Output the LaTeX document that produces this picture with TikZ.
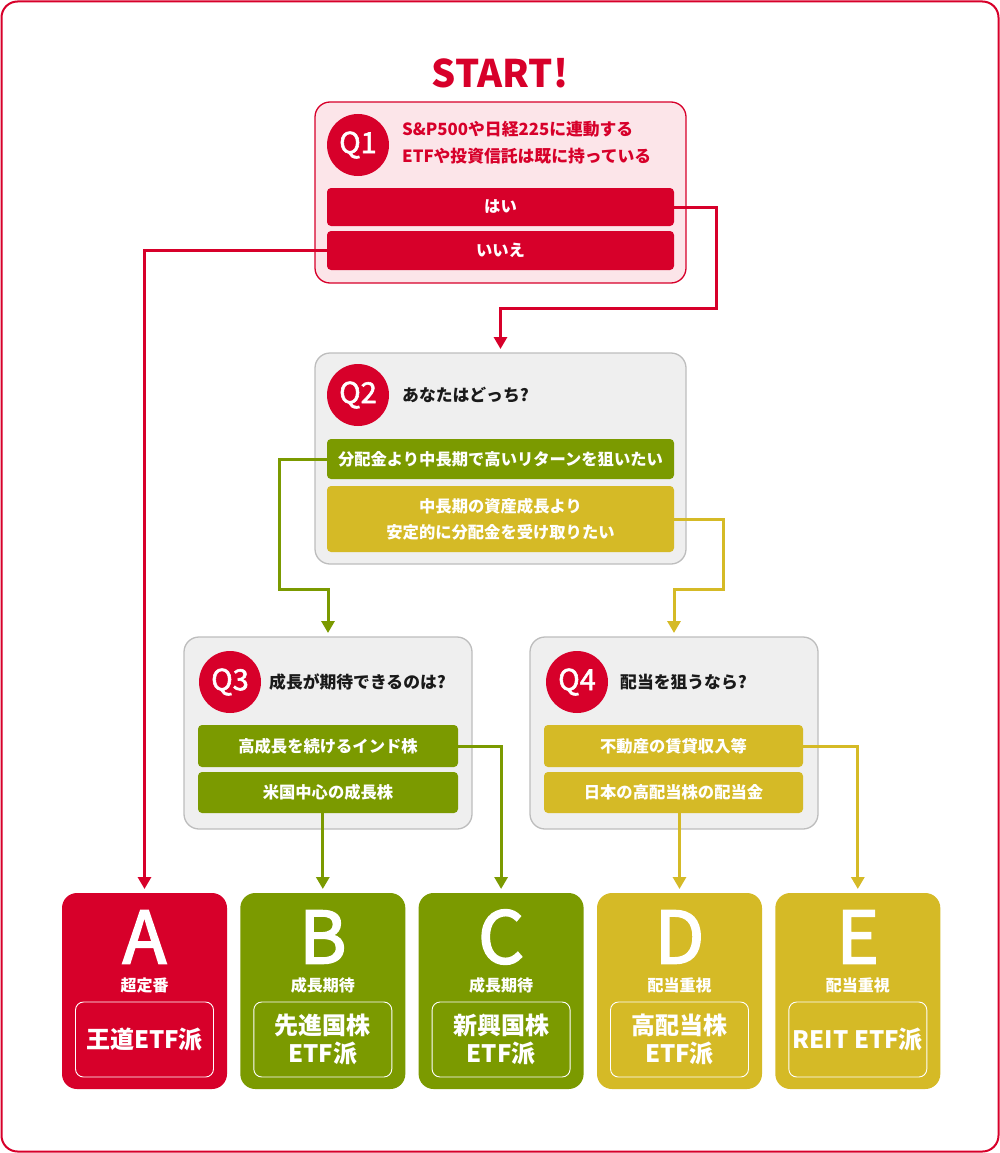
\documentclass[tikz,border=0pt]{standalone}
\usepackage{fontspec}
\setmainfont{Noto Sans CJK JP}
\newfontfamily\medfont[FakeBold=2]{Noto Sans CJK JP}
\newfontfamily\letfont[FakeBold=2.5]{Noto Sans CJK JP}
\usetikzlibrary{arrows.meta}
\definecolor{cred}{HTML}{D7002A}
\definecolor{cgreen}{HTML}{7B9A00}
\definecolor{cyellow}{HTML}{D5BA26}
\definecolor{cpink}{HTML}{FCE5E9}
\definecolor{cgray}{HTML}{EFEFEF}
\definecolor{cgrayb}{HTML}{BDBDBD}
\definecolor{ctext}{HTML}{1A1A1A}
\tikzset{
  qbox/.style={draw, line width=1.3pt, rounded corners=15pt, inner sep=0pt, outer sep=0pt},
  qpink/.style={qbox, draw=cred, fill=cpink},
  qgray/.style={qbox, draw=cgrayb, fill=cgray},
  qcirc/.style={circle, fill=cred, minimum size=62pt, inner sep=0pt, text=white, font=\medfont\fontsize{29}{29}\selectfont},
  qtitle/.style={anchor=west, align=left, inner sep=0pt, font=\bfseries\fontsize{16.8}{27}\selectfont},
  btn/.style={rounded corners=4pt, inner sep=0pt, outer sep=0pt, text=white, align=center, font=\bfseries\fontsize{16.3}{26}\selectfont},
  res/.style={rounded corners=15pt, inner sep=0pt, outer sep=0pt, minimum width=165pt, minimum height=196pt},
  resinner/.style={draw=white, line width=0.9pt, rounded corners=8pt, minimum width=138pt, minimum height=75pt, inner sep=0pt, text=white, align=center, font=\bfseries\fontsize{24}{28}\selectfont},
  conn/.style={line width=3pt},
  arr/.style={conn, -{Triangle[width=13pt,length=12pt]}, shorten >=4pt}
}
\begin{document}
\begin{tikzpicture}[x=1pt,y=-1pt]
\useasboundingbox (0,0) rectangle (1000,1153);
\draw[cred, line width=2pt, rounded corners=16pt] (1.5,1.5) rectangle (998.5,1151.5);

\node[text=cred, font=\bfseries\fontsize{38}{38}\selectfont, inner sep=0pt] (start) at (500,73) {START!};

% Q1
\node[qpink, minimum width=371pt, minimum height=181pt] (q1) at (500.5,192.5) {};
\node[qcirc] (q1c) at (358,145) {Q1};
\node[qtitle, text=cred] (q1t) at (402,143) {S\&P500や日経225に連動する\\ETFや投資信託は既に持っている};
\node[btn, fill=cred, minimum width=347pt, minimum height=38pt] (q1yes) at (500.5,207) {はい};
\node[btn, fill=cred, minimum width=347pt, minimum height=39pt] (q1no) at (500.5,250.5) {いいえ};

% Q2
\node[qgray, minimum width=371pt, minimum height=211pt] (q2) at (500.5,458.5) {};
\node[qcirc] (q2c) at (358,395) {Q2};
\node[qtitle, text=ctext] (q2t) at (402,395) {あなたはどっち?};
\node[btn, fill=cgreen, minimum width=347pt, minimum height=40pt] (q2a) at (500.5,459) {分配金より中長期で高いリターンを狙いたい};
\node[btn, fill=cyellow, minimum width=347pt, minimum height=66pt] (q2b) at (500.5,519) {中長期の資産成長より\\安定的に分配金を受け取りたい};

% Q3
\node[qgray, minimum width=288pt, minimum height=192pt] (q3) at (328,733) {};
\node[qcirc] (q3c) at (230,682) {Q3};
\node[qtitle, text=ctext] (q3t) at (269,682) {成長が期待できるのは?};
\node[btn, fill=cgreen, minimum width=260pt, minimum height=42pt] (q3a) at (328,746) {高成長を続けるインド株};
\node[btn, fill=cgreen, minimum width=260pt, minimum height=41pt] (q3b) at (328,792.5) {米国中心の成長株};

% Q4
\node[qgray, minimum width=288pt, minimum height=192pt] (q4) at (674,733) {};
\node[qcirc] (q4c) at (577,682) {Q4};
\node[qtitle, text=ctext] (q4t) at (620,682) {配当を狙うなら?};
\node[btn, fill=cyellow, minimum width=259pt, minimum height=42pt] (q4a) at (673.5,746) {不動産の賃貸収入等};
\node[btn, fill=cyellow, minimum width=259pt, minimum height=41pt] (q4b) at (673.5,792.5) {日本の高配当株の配当金};

% Results
\foreach \n/\x/\c/\s/\t in {
  A/144.5/cred/超定番/{王道ETF派},
  B/322.8/cgreen/成長期待/{先進国株\\ETF派},
  C/501.1/cgreen/成長期待/{新興国株\\ETF派},
  D/679.5/cyellow/配当重視/{高配当株\\ETF派},
  E/857.8/cyellow/配当重視/{REIT ETF派}} {
  \node[res, fill=\c] (res\n) at (\x,991) {};
  \node[text=white, inner sep=0pt, font=\letfont\fontsize{72}{72}\selectfont] (let\n) at (\x,937) {\n};
  \node[text=white, inner sep=0pt, font=\bfseries\fontsize{16}{16}\selectfont] (sub\n) at (\x,985) {\s};
  \node[resinner] (in\n) at (\x,1039.5) {\t};
}

% Connectors
\draw[arr, cred] (q1yes.east) -- (716,207) -- (716,308) -- (q2.north |- 0,308) -- (q2.north);
\draw[arr, cred] (q1no.west) -- (resA.north |- q1no.west) -- (resA.north);
\draw[arr, cgreen] (q2a.west) -- (279,459) -- (279,589) -- (q3.north |- 0,589) -- (q3.north);
\draw[arr, cyellow] (q2b.east) -- (723,519) -- (723,589) -- (q4.north |- 0,589) -- (q4.north);
\draw[arr, cgreen] (q3a.east) -- (resC.north |- q3a.east) -- (resC.north);
\draw[arr, cgreen] (resB.north |- q3b.south) -- (resB.north);
\draw[arr, cyellow] (q4a.east) -- (resE.north |- q4a.east) -- (resE.north);
\draw[arr, cyellow] (resD.north |- q4b.south) -- (resD.north);
\end{tikzpicture}
\end{document}
